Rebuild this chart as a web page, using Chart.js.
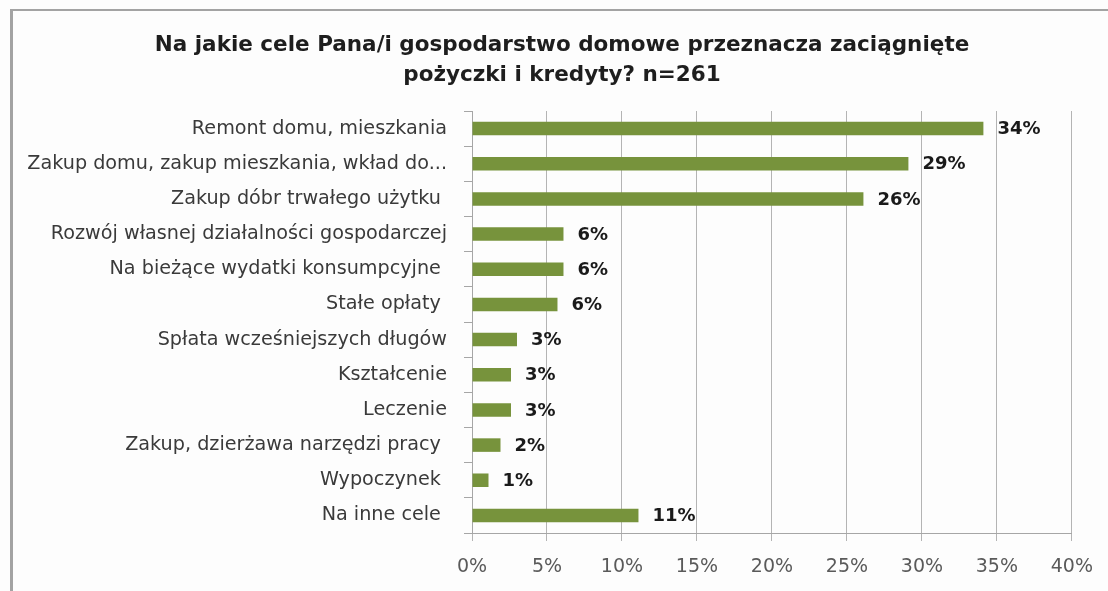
<!DOCTYPE html>
<html lang="pl">
<head>
<meta charset="utf-8">
<title>Na jakie cele Pana/i gospodarstwo domowe przeznacza zaciągnięte pożyczki i kredyty?</title>
<script src="https://cdn.jsdelivr.net/npm/chart.js@4/dist/chart.umd.min.js"></script>
<style>
  html, body { margin: 0; padding: 0; background: #fdfdfd; }
  #wrap { position: relative; width: 1108px; height: 591px; overflow: hidden; }
  #frame {
    position: absolute; left: 10px; top: 9px; right: -10px; bottom: -10px;
    border-left: 3px solid #a3a3a3; border-top: 2px solid #a3a3a3;
    pointer-events: none;
  }
  canvas { position: absolute; left: 0; top: 0; }
</style>
</head>
<body>
<div id="wrap">
  <canvas id="chart" width="1108" height="591"></canvas>
  <div id="frame"></div>
</div>
<script>
const titleLines = [
  "Na jakie cele Pana/i gospodarstwo domowe przeznacza zaciągnięte",
  "pożyczki i kredyty? n=261",
];

const categories = [
  "Remont domu, mieszkania",
  "Zakup domu, zakup mieszkania, wkład do...",
  "Zakup dóbr trwałego użytku ",
  "Rozwój własnej działalności gospodarczej",
  "Na bieżące wydatki konsumpcyjne ",
  "Stałe opłaty ",
  "Spłata wcześniejszych długów",
  "Kształcenie",
  "Leczenie",
  "Zakup, dzierżawa narzędzi pracy ",
  "Wypoczynek ",
  "Na inne cele ",
];

const shares = [34.1, 29.1, 26.1, 6.1, 6.1, 5.7, 3.0, 2.6, 2.6, 1.9, 1.1, 11.1];

const xTicks = [0, 5, 10, 15, 20, 25, 30, 35, 40];

const palette = {
  bar: "#77933c",
  grid: "#b4b4b4",
  axis: "#a6a6a6",
  label: "#3a3a3a",
  tick: "#5a5a5a",
  title: "#1e1e1e",
};

const fontFamily = "'DejaVu Sans', sans-serif";

// title sits centred over the framed box, not over the chart area
const titleBlock = {
  id: "titleBlock",
  afterDraw(chart) {
    const { ctx } = chart;
    ctx.save();
    ctx.font = `bold 21.5px ${fontFamily}`;
    ctx.fillStyle = palette.title;
    ctx.textAlign = "center";
    ctx.textBaseline = "middle";
    titleLines.forEach((line, i) => {
      ctx.fillText(line, chart.width / 2 + 8, 45 + i * 30);
    });
    ctx.restore();
  },
};

// draws the rounded percent next to each bar
const valueLabels = {
  id: "valueLabels",
  afterDatasetsDraw(chart) {
    const { ctx } = chart;
    const meta = chart.getDatasetMeta(0);
    ctx.save();
    ctx.font = `bold 18px ${fontFamily}`;
    ctx.fillStyle = "#1a1a1a";
    ctx.textAlign = "left";
    ctx.textBaseline = "middle";
    meta.data.forEach((bar, i) => {
      ctx.fillText(`${Math.round(shares[i])}%`, bar.x + 14, bar.y + 1);
    });
    ctx.restore();
  },
};

new Chart(document.getElementById("chart"), {
  type: "bar",
  data: {
    labels: categories,
    datasets: [
      {
        data: shares,
        backgroundColor: palette.bar,
        borderWidth: 0,
        categoryPercentage: 1,
        barPercentage: 0.385,
      },
    ],
  },
  options: {
    indexAxis: "y",
    responsive: false,
    animation: false,
    layout: {
      padding: { left: 0, right: 31, top: 111, bottom: 0 },
    },
    plugins: {
      legend: { display: false },
      tooltip: { enabled: false },
      title: { display: false },
    },
    scales: {
      x: {
        min: 0,
        max: 40,
        afterBuildTicks(scale) {
          scale.ticks = xTicks.map((value) => ({ value }));
        },
        afterFit(scale) {
          scale.height = 58;
        },
        ticks: {
          color: palette.tick,
          font: { family: fontFamily, size: 19 },
          padding: 15,
          callback: (value) => `${value}%`,
        },
        grid: {
          color: palette.grid,
          tickLength: 8,
        },
        border: { color: palette.axis },
      },
      y: {
        afterFit(scale) {
          scale.width = 472;
        },
        ticks: {
          color: palette.label,
          font: { family: fontFamily, size: 19.2 },
          padding: 17,
          autoSkip: false,
        },
        grid: {
          offset: true,
          drawOnChartArea: false,
          tickLength: 8,
          color: palette.axis,
        },
        border: { color: palette.axis },
      },
    },
  },
  plugins: [valueLabels, titleBlock],
});
</script>
</body>
</html>
